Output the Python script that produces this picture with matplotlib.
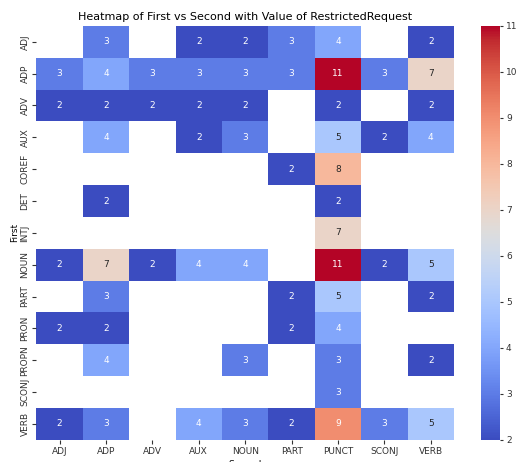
import matplotlib
matplotlib.use('Agg')
import matplotlib.pyplot as plt
import numpy as np
import pandas as pd
import seaborn as sns

nan = np.nan
first = ['ADJ', 'ADP', 'ADV', 'AUX', 'COREF', 'DET', 'INTJ', 'NOUN', 'PART', 'PRON', 'PROPN', 'SCONJ', 'VERB']
second = ['ADJ', 'ADP', 'ADV', 'AUX', 'NOUN', 'PART', 'PUNCT', 'SCONJ', 'VERB']

#values (blank cells = no data)
adj   = [nan, 3, nan, 2, 2, 3, 4, nan, 2]
adp   = [3, 4, 3, 3, 3, 3, 11, 3, 7]
adv   = [2, 2, 2, 2, 2, nan, 2, nan, 2]
aux   = [nan, 4, nan, 2, 3, nan, 5, 2, 4]
coref = [nan, nan, nan, nan, nan, 2, 8, nan, nan]
det   = [nan, 2, nan, nan, nan, nan, 2, nan, nan]
intj  = [nan, nan, nan, nan, nan, nan, 7, nan, nan]
noun  = [2, 7, 2, 4, 4, nan, 11, 2, 5]
part  = [nan, 3, nan, nan, nan, 2, 5, nan, 2]
pron  = [2, 2, nan, nan, nan, 2, 4, nan, nan]
propn = [nan, 4, nan, nan, 3, nan, 3, nan, 2]
sconj = [nan, nan, nan, nan, nan, nan, 3, nan, nan]
verb  = [2, 3, nan, 4, 3, 2, 9, 3, 5]

table = pd.DataFrame([adj, adp, adv, aux, coref, det, intj, noun, part, pron, propn, sconj, verb],
                     index=first, columns=second)
table.index.name = 'First'
table.columns.name = 'Second'

fig = plt.figure(figsize=(5.2, 4.62), dpi=100)
ax = fig.add_axes([0.070, 0.048, 0.803, 0.896])
cax = fig.add_axes([0.925, 0.048, 0.036, 0.896])

sns.heatmap(table, cmap='coolwarm', annot=True, fmt='.0f',
            annot_kws={'size': 6.5}, ax=ax, cbar_ax=cax)
ax.set_title('Heatmap of First vs Second with Value of RestrictedRequest', fontsize=8, pad=4)
ax.tick_params(labelsize=6.5, colors='#333333', labelcolor='#333333', length=3, pad=2)
plt.setp(ax.get_yticklabels(), rotation=90, va='center')
ax.set_xlabel('Second', fontsize=6.5, labelpad=3)
ax.set_ylabel('First', fontsize=6.5, labelpad=1)
cax.tick_params(labelsize=6.5, colors='#333333', length=2.5, pad=2)
cax.set_yticks([2, 3, 4, 5, 6, 7, 8, 9, 10, 11])

plt.savefig('out.png', dpi=100)
plt.close()
